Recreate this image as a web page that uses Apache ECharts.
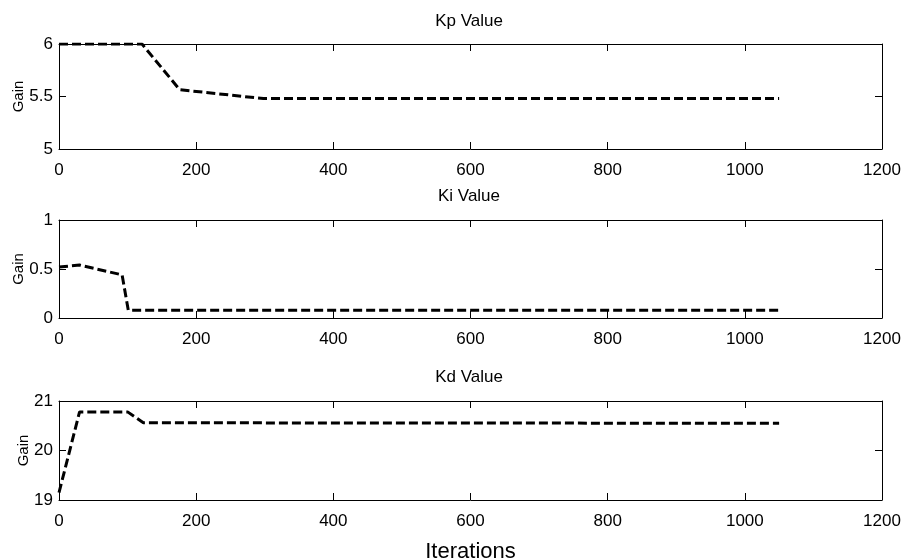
<!DOCTYPE html>
<html>
<head>
<meta charset="utf-8">
<script src="https://cdn.jsdelivr.net/npm/echarts@6/dist/echarts.min.js"></script>
<style>
  html, body { margin: 0; padding: 0; background: #fff; }
  #main { width: 902px; height: 559px; }
</style>
</head>
<body>
<div id="main"></div>
<script>
// values
const kpIter = [0, 121, 176, 298, 1050];
const kpGain = [6, 6, 5.565, 5.48, 5.48];
const kiIter = [0, 30, 92, 101, 1050];
const kiGain = [0.52, 0.54, 0.44, 0.08, 0.08];
const kdIter = [0, 30, 100, 123, 1050];
const kdGain = [19.15, 20.78, 20.78, 20.56, 20.55];

const titles = ["Kp Value", "Ki Value", "Kd Value"];
const yMin = [5, 0, 19];
const yMax = [6, 1, 21];
const yStep = [0.5, 0.5, 1];

const font = "Liberation Sans, Arial, sans-serif";
const pairs = (xs, ys) => xs.map((x, i) => [x, ys[i]]);
const seriesData = [pairs(kpIter, kpGain), pairs(kiIter, kiGain), pairs(kdIter, kdGain)];

const grids = [
  { left: 59, right: 20, top: 44, height: 105 },
  { left: 59, right: 20, top: 220, height: 98 },
  { left: 59, right: 20, top: 401, height: 99 },
].map((g) => Object.assign({ containLabel: false, outerBoundsMode: "none" }, g));
const titleTops = [13, 188, 369];
const gainGaps = [33, 33, 28];

const axisLine = { show: true, onZero: false, lineStyle: { color: "#000", width: 1 } };
const tick = { show: true, inside: true, length: 7, lineStyle: { color: "#000", width: 1 } };
const label = { color: "#000", fontSize: 17, fontFamily: font, formatter: (v) => String(v) };

var xAxis = [], yAxis = [], series = [];
grids.forEach((g, i) => {
  // bottom axis with labels
  xAxis.push({
    type: "value", gridIndex: i, position: "bottom",
    min: 0, max: 1200, interval: 200,
    axisLine: axisLine, axisTick: tick,
    axisLabel: Object.assign({ margin: 13 }, label),
    splitLine: { show: false },
    name: i == 2 ? "Iterations" : "",
    nameLocation: "middle", nameGap: 41, nameMoveOverlap: false,
    nameTextStyle: { color: "#000", fontSize: 22, fontFamily: font },
  });
  // top box edge
  xAxis.push({
    type: "value", gridIndex: i, position: "top",
    min: 0, max: 1200, interval: 200,
    axisLine: axisLine, axisTick: tick,
    axisLabel: { show: false }, splitLine: { show: false },
  });
  yAxis.push({
    type: "value", gridIndex: i, position: "left",
    min: yMin[i], max: yMax[i], interval: yStep[i],
    axisLine: axisLine, axisTick: tick,
    axisLabel: Object.assign({ margin: 6 }, label),
    splitLine: { show: false },
    name: "Gain", nameLocation: "middle", nameGap: gainGaps[i], nameMoveOverlap: false,
    nameTextStyle: { color: "#000", fontSize: 15, fontFamily: font },
  });
  yAxis.push({
    type: "value", gridIndex: i, position: "right",
    min: yMin[i], max: yMax[i], interval: yStep[i],
    axisLine: axisLine, axisTick: tick,
    axisLabel: { show: false }, splitLine: { show: false },
  });
  series.push({
    type: "line",
    xAxisIndex: i * 2,
    yAxisIndex: i * 2,
    data: seriesData[i],
    symbol: "none",
    lineStyle: { color: "#000", width: 3, type: [9, 4] },
    animation: false,
  });
});

var myChart = echarts.init(document.getElementById("main"));
myChart.setOption({
  backgroundColor: "#fff",
  animation: false,
  title: titles.map((t, i) => ({
    text: t, left: 469, top: titleTops[i], textAlign: "center", padding: 0,
    textStyle: { color: "#000", fontSize: 17, fontWeight: "normal", fontFamily: font },
  })),
  grid: grids,
  xAxis: xAxis,
  yAxis: yAxis,
  series: series,
});
</script>
</body>
</html>
